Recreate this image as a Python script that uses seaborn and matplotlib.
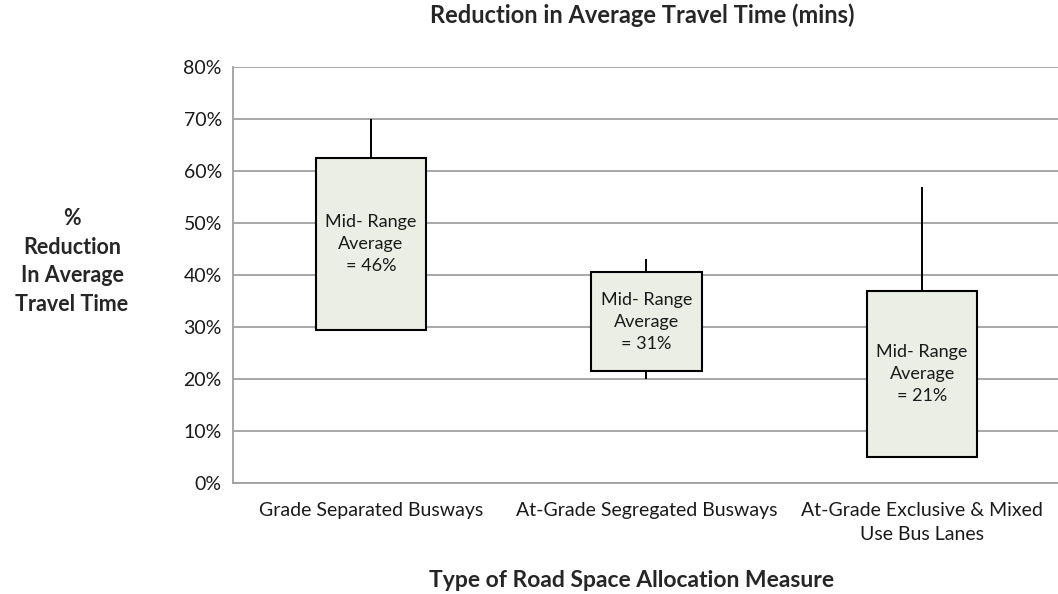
import matplotlib
matplotlib.use("Agg")
import matplotlib.pyplot as plt
from matplotlib.ticker import PercentFormatter, MultipleLocator
import seaborn as sns
import pandas as pd

categories = ["Grade Separated Busways", "At-Grade Segregated Busways",
              "At-Grade Exclusive & Mixed\nUse Bus Lanes"]
box_low = [29.5, 21.5, 5.0]
box_high = [62.5, 40.5, 37.0]
whisker_low = [29.5, 20.0, 5.0]
whisker_high = [70.0, 43.0, 57.0]
mid_avg = [46, 31, 21]

sns.set_theme(style="white")
plt.rcParams["font.family"] = ["Lato", "DejaVu Sans"]

df = pd.DataFrame({"cat": categories, "low": box_low, "high": box_high,
                   "span": [h - l for h, l in zip(box_high, box_low)]})

fig = plt.figure(figsize=(10.58, 5.94), dpi=100)
ax = fig.add_axes([0.2202, 0.1869, 0.7817, 0.7003])

# whiskers
ax.vlines(range(len(categories)), whisker_low, whisker_high, color="black",
          linewidth=1.4, zorder=2)

sns.barplot(data=df, x="cat", y="span", bottom=df["low"].values, ax=ax,
            color="#EAEEE4", edgecolor="black", linewidth=1.5, width=0.4,
            saturation=1, zorder=3)

for i, v in enumerate(mid_avg):
    ax.text(i, v, f"Mid- Range\nAverage\n= {v}%", ha="center", va="center",
            fontsize=13, color="#1a1a1a", zorder=4, linespacing=1.45)

ax.set_ylim(0, 80)
ax.set_xlim(-0.5, 2.5)
ax.yaxis.set_major_locator(MultipleLocator(10))
ax.yaxis.set_major_formatter(PercentFormatter(decimals=0))
ax.grid(axis="y", color="#A0A0A0", linewidth=1.3, zorder=0)
ax.set_axisbelow(True)
for s in ["top", "right"]:
    ax.spines[s].set_visible(False)
for s in ["left", "bottom"]:
    ax.spines[s].set_color("#A0A0A0")
    ax.spines[s].set_linewidth(1.3)
ax.tick_params(axis="both", length=0, labelsize=14, colors="#1a1a1a", pad=8)
ax.tick_params(axis="x", pad=14)
for lab in ax.get_xticklabels():
    lab.set_linespacing(1.5)
ax.set_xlabel("")
ax.set_ylabel("")

fig.text(0.607, 0.974, "Reduction in Average Travel Time (mins)", ha="center",
         va="center", fontsize=17, fontweight="bold")
fig.text(0.597, 0.022, "Type of Road Space Allocation Measure", ha="center",
         va="center", fontsize=16.5, fontweight="bold")
fig.text(0.068, 0.56, "%\nReduction\nIn Average\nTravel Time", ha="center",
         va="center", fontsize=15.5, fontweight="bold", linespacing=1.45)

fig.savefig("out.png", dpi=100)
